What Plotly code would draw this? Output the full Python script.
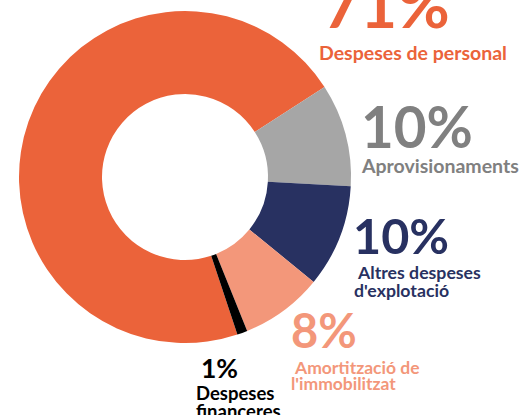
import plotly.graph_objects as go

categories = ["Despeses de personal", "Aprovisionaments", "Altres despeses d'explotació",
              "Amortització de l'immobilitzat", "Despeses financeres"]
values = [71, 10, 10, 8, 1]
slice_colors = ["#EB633A", "#A6A6A6", "#283161", "#F3977A", "#000000"]
text_colors = ["#EB633A", "#808080", "#283161", "#F3977A", "#000000"]
label_lines = [["Despeses de personal"], ["Aprovisionaments"], ["Altres despeses", "d'explotació"],
               ["Amortització de", "l'immobilitzat"], ["Despeses", "financeres"]]

W, H = 523, 415
cx, cy, r = 185, 177, 166

fig = go.Figure(go.Pie(
    labels=categories, values=values, sort=False, direction="clockwise", rotation=161.6,
    hole=0.5, marker=dict(colors=slice_colors, line=dict(width=0)),
    textinfo="none", hoverinfo="label+percent", showlegend=False,
    domain=dict(x=[(cx - r) / W, (cx + r) / W], y=[(H - cy - r) / H, (H - cy + r) / H]),
))

# label layout: (x_left, y_center of percentage, pct size, [(x, y) of each text line], text size)
layout_spec = [
    (321, 3, 64, [(317, 52.5)], 19.5),
    (359, 125.5, 56.5, [(359, 165)], 19.5),
    (351, 234.5, 48.5, [(355, 272), (352, 290)], 17.7),
    (289, 330, 47, [(292, 367.5), (289, 383.5)], 17.5),
    (199, 367.5, 26.5, [(194, 393), (194, 411)], 18.5),
]

annotations = []
font = "Lato, 'Open Sans', sans-serif"
for v, col, lines, spec in zip(values, text_colors, label_lines, layout_spec):
    px, py, ps, pos, ts = spec
    annotations.append(dict(
        text=f"<b>{v}%</b>", x=px / W, y=1 - py / H, xref="paper", yref="paper",
        xanchor="left", yanchor="middle", showarrow=False,
        font=dict(family=font, size=ps, color=col)))
    for line, (lx, ly) in zip(lines, pos):
        annotations.append(dict(
            text=f"<b>{line}</b>", x=lx / W, y=1 - ly / H, xref="paper", yref="paper",
            xanchor="left", yanchor="middle", showarrow=False,
            font=dict(family=font, size=ts, color=col)))

fig.update_layout(
    width=W, height=H, margin=dict(l=0, r=0, t=0, b=0),
    paper_bgcolor="white", plot_bgcolor="white",
    annotations=annotations,
)
fig.write_html("out.html", config={"displayModeBar": False},
               post_script="document.body.style.margin='0';document.body.style.overflow='hidden';")
